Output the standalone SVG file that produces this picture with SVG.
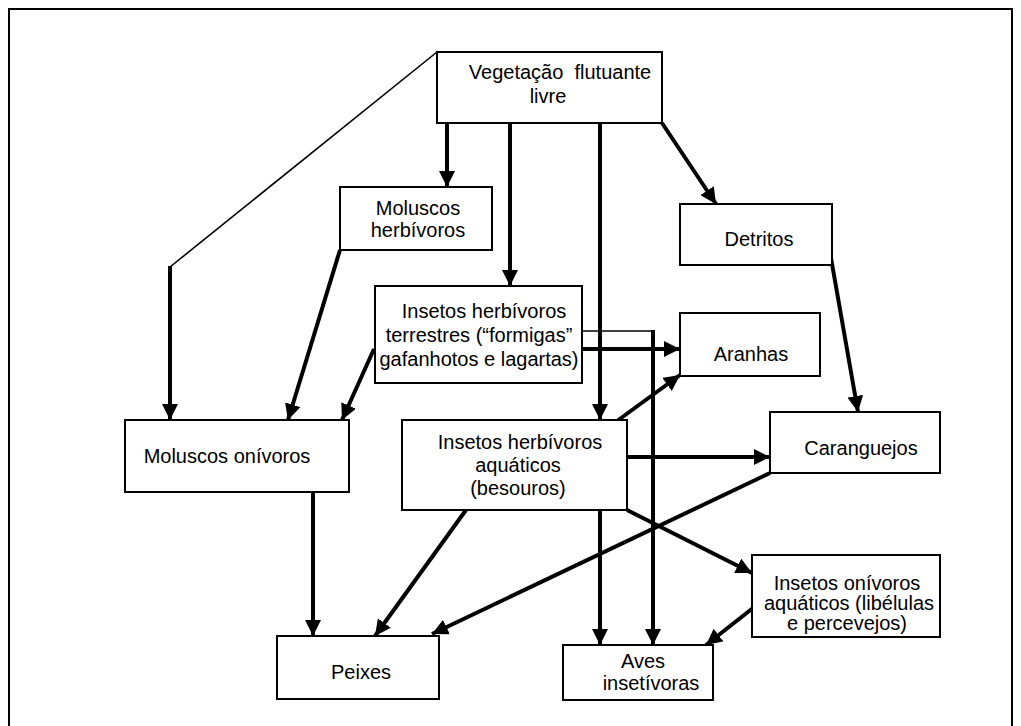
<svg xmlns="http://www.w3.org/2000/svg" width="1021" height="726" viewBox="0 0 1021 726">
<style>
.box{fill:#fff;stroke:#000;stroke-width:2}
.t{font-family:"Liberation Sans",Arial,sans-serif;font-size:20px;fill:#000;text-anchor:middle}
.a{stroke:#000;stroke-width:4;fill:none;marker-end:url(#ah)}
.thin{stroke:#000;stroke-width:1.6;fill:none}
</style>
<defs>
<marker id="ah" markerUnits="userSpaceOnUse" markerWidth="17" markerHeight="16" refX="16" refY="8" orient="auto">
<path d="M0,0 L16,8 L0,16 z" fill="#000"/>
</marker>
</defs>
<rect width="1021" height="726" fill="#fff"/>
<path d="M9,730 V9 H1012 V730" fill="none" stroke="#000" stroke-width="2"/>
<g id="connectors">
<line class="a" x1="447" y1="123" x2="447" y2="187"/>
<line class="a" x1="510" y1="123" x2="510" y2="286"/>
<line class="a" x1="600" y1="123" x2="600" y2="420"/>
<line class="a" x1="662" y1="123" x2="716" y2="204"/>
<line class="thin" x1="437" y1="52" x2="170" y2="267"/>
<line class="a" x1="170" y1="266" x2="170" y2="420"/>
<line class="a" x1="340" y1="250" x2="288" y2="420"/>
<line class="a" x1="374" y1="349" x2="342" y2="420"/>
<line class="a" x1="582" y1="349" x2="680" y2="349"/>
<line class="thin" x1="582" y1="331" x2="654" y2="331"/>
<line class="a" x1="653" y1="330" x2="653" y2="645"/>
<line class="a" x1="617" y1="421" x2="680" y2="375"/>
<line class="a" x1="627" y1="457" x2="770" y2="457"/>
<line class="a" x1="466" y1="510" x2="375" y2="636"/>
<line class="a" x1="600" y1="510" x2="600" y2="645"/>
<line class="a" x1="627" y1="510" x2="752" y2="573"/>
<line class="a" x1="831" y1="258" x2="858" y2="412"/>
<line class="a" x1="770" y1="473" x2="432" y2="634"/>
<line class="a" x1="313" y1="492" x2="313" y2="636"/>
<line class="a" x1="753" y1="608" x2="706" y2="645"/>
</g>
<g id="vegetacao">
<rect class="box" x="437" y="52" width="225" height="71"/>
<text class="t" x="560" y="79" xml:space="preserve">Vegetação  flutuante</text>
<text class="t" x="548" y="103">livre</text>
</g>
<g id="moluscos-herbivoros">
<rect class="box" x="340" y="187" width="152" height="63"/>
<text class="t" x="418" y="215">Moluscos</text>
<text class="t" x="418" y="237">herbívoros</text>
</g>
<g id="detritos">
<rect class="box" x="680" y="204" width="152" height="61"/>
<text class="t" x="759" y="246">Detritos</text>
</g>
<g id="insetos-terrestres">
<rect class="box" x="375" y="286" width="207" height="97"/>
<text class="t" x="484" y="318">Insetos herbívoros</text>
<text class="t" x="479" y="342">terrestres (“formigas”</text>
<text class="t" x="479" y="366">gafanhotos e lagartas)</text>
</g>
<g id="aranhas">
<rect class="box" x="680" y="313" width="140" height="63"/>
<text class="t" x="751" y="361">Aranhas</text>
</g>
<g id="moluscos-onivoros">
<rect class="box" x="125" y="420" width="224" height="72"/>
<text class="t" x="227" y="463">Moluscos onívoros</text>
</g>
<g id="insetos-aquaticos">
<rect class="box" x="402" y="420" width="225" height="90"/>
<text class="t" x="520" y="449">Insetos herbívoros</text>
<text class="t" x="518" y="472">aquáticos</text>
<text class="t" x="518" y="495">(besouros)</text>
</g>
<g id="caranguejos">
<rect class="box" x="770" y="412" width="170" height="61"/>
<text class="t" x="861" y="455">Caranguejos</text>
</g>
<g id="insetos-onivoros">
<rect class="box" x="752" y="555" width="188" height="82"/>
<text class="t" x="847" y="590">Insetos onívoros</text>
<text class="t" x="849" y="610">aquáticos (libélulas</text>
<text class="t" x="847" y="630">e percevejos)</text>
</g>
<g id="peixes">
<rect class="box" x="277" y="636" width="162" height="63"/>
<text class="t" x="361" y="679">Peixes</text>
</g>
<g id="aves">
<rect class="box" x="563" y="645" width="150" height="55"/>
<text class="t" x="643" y="668">Aves</text>
<text class="t" x="651" y="690">insetívoras</text>
</g>
</svg>
